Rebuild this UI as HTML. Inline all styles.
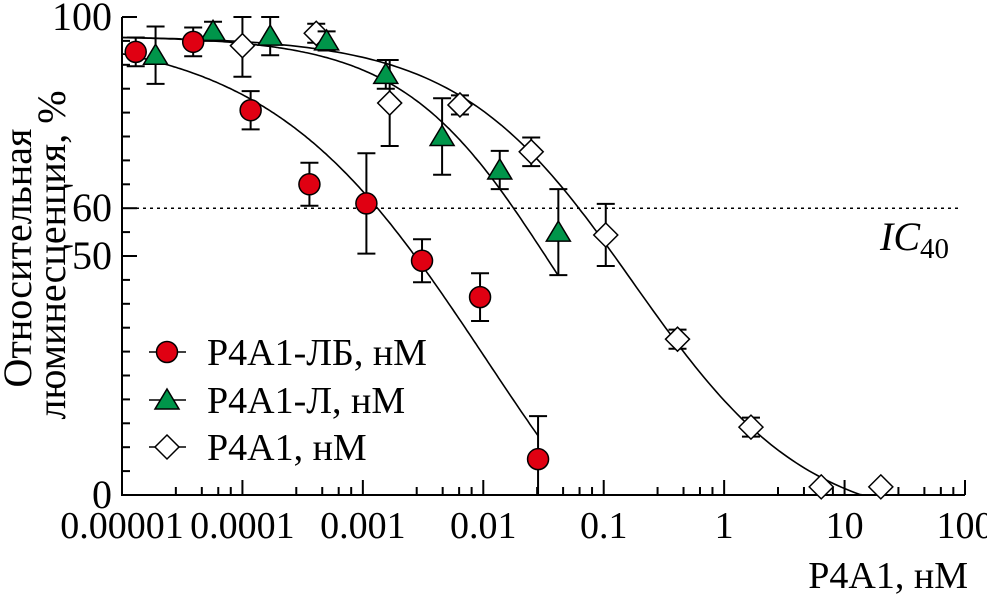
<!DOCTYPE html>
<html><head><meta charset="utf-8"><style>
body{margin:0;background:#fff;}
svg{display:block;}
text{font-family:"Liberation Serif","Times New Roman",Times,"DejaVu Serif",serif;}
</style></head><body>
<svg id="c" width="987" height="596" viewBox="0 0 987 596">
<g id="axes"></g><g id="curves"></g><g id="marks"></g><g id="legend"></g>
</svg>
<script>
const xRedConc=[1.3e-5,3.9e-5,1.17e-4,3.6e-4,1.07e-3,3.1e-3,9.4e-3,2.85e-2];
const yRed=[92.7,94.8,80.5,65,61,49,41.4,7.5];
const eRed=[3,3,4,4.5,10.5,4.5,5,9];
const xGreenConc=[1.9e-5,5.7e-5,1.7e-4,5e-4,1.55e-3,4.55e-3,1.37e-2,4.2e-2];
const yGreen=[92,97,96,95,88,75,68,55];
const eGreen=[6,2,4,2,3,8,4,9];
const xWhiteConc=[1e-4,4.1e-4,1.67e-3,6.4e-3,2.5e-2,0.104,0.41,1.67,6.4,20];
const yWhite=[94,96.6,82,81.6,71.8,54.4,32.6,14.2,1.7,1.7];
const eWhite=[6.5,2,9,2,3,6.5,2,2,0,0];
// fit parameters [top, bottom, ic, hill, xStart, xEnd]
const fitRed=[97,-40,0.0105,0.48,1e-5,2.85e-2];
const fitGreen=[96,0,0.037,0.7,1e-5,4.2e-2];
const fitWhite=[96,-7,0.175,0.6,1e-5,100];
const xTickVals=[0.00001,0.0001,0.001,0.01,0.1,1,10,100];
const xTickLabels=["0.00001","0.0001","0.001","0.01","0.1","1","10","100"];
const xMinor=[2.8,4.6,6.3,8];
const yTickVals=[0,50,60,100];
const yTickLabels=["0","50","60","100"];

const NS="http://www.w3.org/2000/svg";
const X0=122,X1=965,Y0=495,Y1=17;
function sx(v){return X0+(Math.log10(v)+5)/7*(X1-X0);}
function sy(v){return Y0-v/100*(Y0-Y1);}
function mk(parent,tag,attrs){const e=document.createElementNS(NS,tag);for(const k in attrs)e.setAttribute(k,attrs[k]);document.getElementById(parent).appendChild(e);return e;}

let e=mk('axes','path',{d:`M${X0},${Y1}V${Y0}H${X1}`,fill:'none',stroke:'#000','stroke-width':2});


for(let v=0;v<=100;v+=5){const major=yTickVals.includes(v);
 e=mk('axes','line',{x1:X0,x2:X0+(major?15:8),y1:sy(v),y2:sy(v),stroke:'#000','stroke-width':2});
 
 }
yTickVals.forEach((v,i)=>{e=mk('axes','text',{x:X0-10,y:sy(v)+13,'text-anchor':'end','font-size':40});e.textContent=yTickLabels[i];
 
 });
xTickVals.forEach((v,i)=>{
 e=mk('axes','line',{x1:sx(v),x2:sx(v),y1:Y0,y2:Y0-15,stroke:'#000','stroke-width':2});
 
 
 if(i<xTickVals.length-1) xMinor.forEach(m=>{e=mk('axes','line',{x1:sx(v*m),x2:sx(v*m),y1:Y0,y2:Y0-8,stroke:'#000','stroke-width':2});
  
  });
 e=mk('axes','text',{x:sx(v),y:538,'text-anchor':'middle','font-size':38});e.textContent=xTickLabels[i];
 
 
});
e=mk('axes','text',{x:968,y:588,'text-anchor':'end','font-size':38});e.textContent='P4A1, нМ';


e=mk('axes','text',{x:0,y:0,'text-anchor':'middle','font-size':40,transform:'translate(31,258) rotate(-90)'});e.textContent='Относительная';


e=mk('axes','text',{x:0,y:0,'text-anchor':'middle','font-size':40,transform:'translate(65,255) rotate(-90)'});e.textContent='люминесценция, %';


e=mk('axes','line',{x1:X0,x2:960,y1:sy(60),y2:sy(60),stroke:'#000','stroke-width':1.5,'stroke-dasharray':'3,4'});


e=mk('axes','text',{x:880,y:250,'font-size':40,'font-style':'italic'});
e.innerHTML='IC<tspan font-style="normal" font-size="29" dy="8">40</tspan>';



function curve(f,name){const [t,b,c,h,xs,xe]=f;let d='';const n=200;
 for(let i=0;i<=n;i++){const x=Math.pow(10,Math.log10(xs)+(Math.log10(xe)-Math.log10(xs))*i/n);
  let y=b+(t-b)/(1+Math.pow(x/c,h));if(y<0){y=0;d+=(d?'L':'M')+sx(x).toFixed(1)+','+sy(y).toFixed(1);break;}
  d+=(d?'L':'M')+sx(x).toFixed(1)+','+sy(y).toFixed(1);}
 const p=mk('curves','path',{d:d,fill:'none',stroke:'#000','stroke-width':1.6});
 
 }
curve(fitRed,'fit-curve-p4a1-lb');curve(fitGreen,'fit-curve-p4a1-l');curve(fitWhite,'fit-curve-p4a1');

function marker(g,type,cx,cy){
 if(type==='c')return mk(g,'circle',{cx:cx,cy:cy,r:10.5,fill:'#e00012',stroke:'#000','stroke-width':1.5});
 if(type==='t')return mk(g,'path',{d:`M${cx},${cy-11}L${cx+12},${cy+9}L${cx-12},${cy+9}Z`,fill:'#00954a',stroke:'#000','stroke-width':1.5});
 return mk(g,'path',{d:`M${cx},${cy-12}L${cx+12},${cy}L${cx},${cy+12}L${cx-12},${cy}Z`,fill:'#fff',stroke:'#000','stroke-width':1.5});
}
function series(xs,ys,es,type,name){xs.forEach((x,i)=>{const cx=sx(x),cy=sy(ys[i]);
 if(es[i]>0){const top=sy(Math.min(100,ys[i]+es[i])),bot=sy(Math.max(0,ys[i]-es[i]));
  const b=mk('marks','path',{d:`M${cx},${top}V${bot}M${cx-9},${top}H${cx+9}M${cx-9},${bot}H${cx+9}`,stroke:'#000','stroke-width':2,fill:'none'});
  
  }
 const m=marker('marks',type,cx,cy);
 
 });}
series(xWhiteConc,yWhite,eWhite,'d','p4a1');
series(xGreenConc,yGreen,eGreen,'t','p4a1-l');
series(xRedConc,yRed,eRed,'c','p4a1-lb');

[['c','P4A1-ЛБ, нМ',352,'legend-entry-p4a1-lb'],['t','P4A1-Л, нМ',400,'legend-entry-p4a1-l'],['d','P4A1, нМ',447,'legend-entry-p4a1']].forEach(([t,l,y,n])=>{
 let k=mk('legend','line',{x1:149,x2:186,y1:y,y2:y,stroke:'#000','stroke-width':1.5});
 
 
 k=marker('legend',t,167,y);
 
 
 k=mk('legend','text',{x:207,y:y+13,'font-size':38});k.textContent=l;
 
 
});
</script>
</body></html>
